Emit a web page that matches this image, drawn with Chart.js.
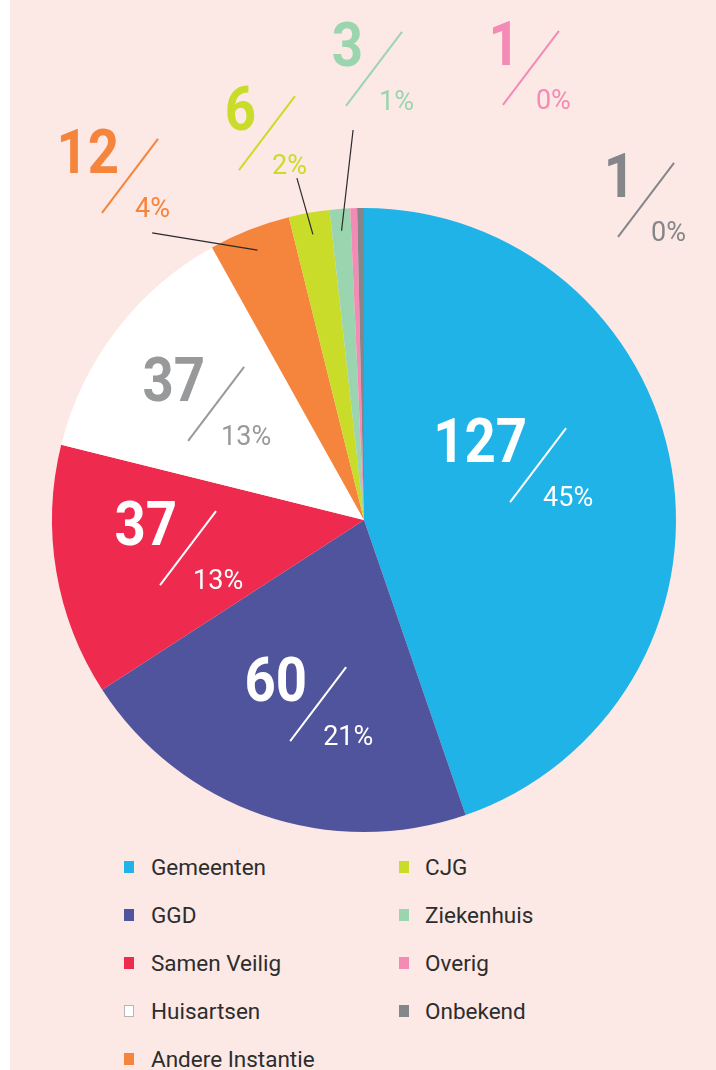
<!DOCTYPE html>
<html>
<head>
<meta charset="utf-8">
<script src="https://cdn.jsdelivr.net/npm/chart.js@4"></script>
<style>
  html, body { margin: 0; padding: 0; background: #ffffff; }
  #panel { position: absolute; left: 10px; top: 0; width: 706px; height: 1070px; background: #fce8e5; overflow: hidden; }
  #chartBox { position: absolute; left: 0; top: 0; width: 706px; height: 850px; }
  .legend-item { position: absolute; font-family: Roboto, sans-serif; font-size: 22.5px; color: #2d2d2d; line-height: 24px; white-space: nowrap; }
  .legend-box { position: absolute; width: 10px; height: 12px; box-sizing: border-box; }
</style>
</head>
<body>
<div id="panel">
  <div id="chartBox"><canvas id="pieChart" width="706" height="850"></canvas></div>
  <div id="legend"></div>
</div>
<script>
// Datos del gráfico
const categories = ['Gemeenten', 'GGD', 'Samen Veilig', 'Huisartsen', 'Andere Instantie', 'CJG', 'Ziekenhuis', 'Overig', 'Onbekend'];
const counts = [127, 60, 37, 37, 12, 6, 3, 1, 1];
const percentLabels = ['45%', '21%', '13%', '13%', '4%', '2%', '1%', '0%', '0%'];

// Colores de los sectores
const sliceColors = ['#1fb3e8', '#50549c', '#ee2b4f', '#ffffff', '#f5843c', '#c9dc2a', '#9bd5b0', '#f38bb6', '#858689'];
const labelColors = ['#ffffff', '#ffffff', '#ffffff', '#98999b', '#f5843c', '#c9dc2a', '#9bd5b0', '#f38bb6', '#858689'];

// Posición de cada etiqueta (punto medio de la barra), en unidades del radio
const labelOffsets = [
  [0.558, -0.176], [-0.147, 0.590], [-0.564, 0.090], [-0.474, -0.372],
  [-0.750, -1.103], [-0.311, -1.240], [0.032, -1.446], [0.535, -1.449], [0.904, -1.026]
];
// Líneas guía para los sectores pequeños (inicio en unidades del radio)
const leaderStarts = { 4: [-0.679, -0.920], 5: [-0.215, -1.096], 6: [-0.035, -1.250] };

const labelPlugin = {
  id: 'sliceLabels',
  afterDatasetsDraw(chart) {
    const ctx = chart.ctx;
    const meta = chart.getDatasetMeta(0);
    meta.data.forEach(function(arc, i) {
      const R = arc.outerRadius;
      const ax = arc.x + labelOffsets[i][0] * R;
      const ay = arc.y + labelOffsets[i][1] * R;
      const col = labelColors[i];
      ctx.save();
      // línea guía
      if (leaderStarts[i]) {
        const mid = (arc.startAngle + arc.endAngle) / 2;
        ctx.strokeStyle = '#2a2a2a';
        ctx.lineWidth = 1.2;
        ctx.beginPath();
        ctx.moveTo(arc.x + leaderStarts[i][0] * R, arc.y + leaderStarts[i][1] * R);
        ctx.lineTo(arc.x + Math.cos(mid) * R * 0.93, arc.y + Math.sin(mid) * R * 0.93);
        ctx.stroke();
      }
      // barra diagonal
      ctx.strokeStyle = col;
      ctx.lineWidth = 2;
      ctx.beginPath();
      ctx.moveTo(ax - 28, ay + 37);
      ctx.lineTo(ax + 28, ay - 37);
      ctx.stroke();
      // número grande
      ctx.fillStyle = col;
      ctx.textBaseline = 'alphabetic';
      ctx.save();
      ctx.translate(ax - 11, ay - 3);
      ctx.scale(0.88, 1);
      ctx.textAlign = 'right';
      ctx.font = 'bold 62px Roboto, sans-serif';
      ctx.fillText(String(counts[i]), 0, 0);
      ctx.restore();
      // porcentaje
      ctx.textAlign = 'left';
      ctx.font = '27px Roboto, sans-serif';
      ctx.fillText(percentLabels[i], ax + 5, ay + 41);
      ctx.restore();
    });
  }
};

new Chart(document.getElementById('pieChart').getContext('2d'), {
  type: 'pie',
  data: {
    labels: categories,
    datasets: [{
      data: counts,
      backgroundColor: sliceColors,
      borderWidth: 0
    }]
  },
  options: {
    responsive: false,
    animation: false,
    layout: { padding: { left: 42, right: 40, top: 208, bottom: 18 } },
    plugins: {
      legend: { display: false },
      tooltip: { enabled: false }
    }
  },
  plugins: [labelPlugin]
});

// Leyenda en dos columnas
const legend = document.getElementById('legend');
categories.forEach(function(name, i) {
  const col = i < 5 ? 0 : 1;
  const row = i < 5 ? i : i - 5;
  const boxX = col === 0 ? 114 : 389;
  const textX = col === 0 ? 141 : 415;
  const y = 867 + row * 48;
  const box = document.createElement('div');
  box.className = 'legend-box';
  box.style.left = boxX + 'px';
  box.style.top = (y - 6) + 'px';
  box.style.background = sliceColors[i];
  if (sliceColors[i] === '#ffffff') box.style.border = '1px solid #b5b5b5';
  legend.appendChild(box);
  const txt = document.createElement('div');
  txt.className = 'legend-item';
  txt.style.left = textX + 'px';
  txt.style.top = (y - 12) + 'px';
  txt.textContent = name;
  legend.appendChild(txt);
});
</script>
</body>
</html>
